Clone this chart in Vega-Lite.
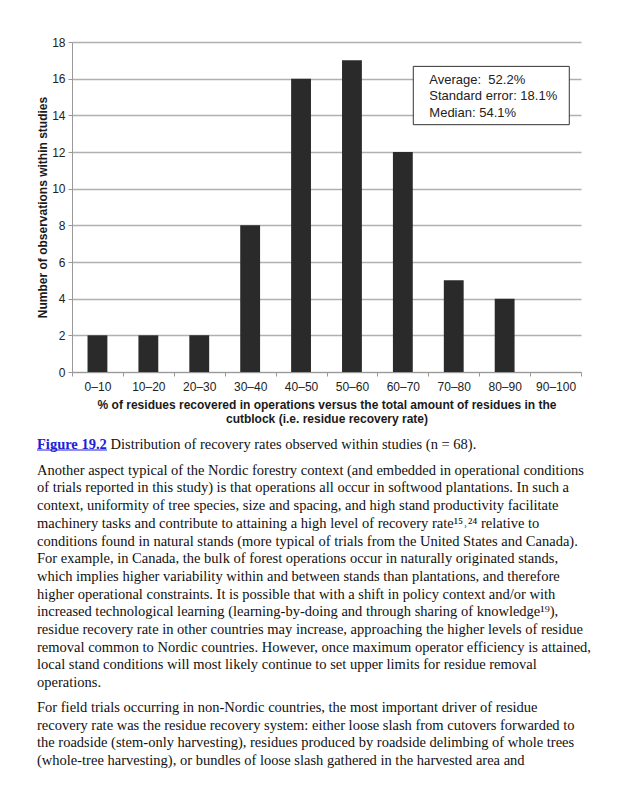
{
  "$schema": "https://vega.github.io/schema/vega-lite/v6.json",
  "background": "white",
  "padding": {"left": 36, "top": 36, "right": 0, "bottom": 0},
  "config": {"view": {"stroke": null}, "font": "Liberation Sans"},
  "columns": 1,
  "spacing": 12,
  "concat": [
    {
      "width": 509,
      "height": 330,
      "data": {"values": [
        {"range": "0–10", "count": 2},
        {"range": "10–20", "count": 2},
        {"range": "20–30", "count": 2},
        {"range": "30–40", "count": 8},
        {"range": "40–50", "count": 16},
        {"range": "50–60", "count": 17},
        {"range": "60–70", "count": 12},
        {"range": "70–80", "count": 5},
        {"range": "80–90", "count": 4},
        {"range": "90–100", "count": 0}
      ]},
      "resolve": {"scale": {"x": "independent"}, "axis": {"x": "independent"}},
      "layer": [
        {
          "mark": {"type": "bar", "color": "#2a2a2a", "width": {"band": 0.39}},
          "encoding": {
            "x": {
              "field": "range", "type": "nominal", "sort": null,
              "scale": {"paddingInner": 0, "paddingOuter": 0},
              "title": ["% of residues recovered in operations versus the total amount of residues in the", "cutblock (i.e. residue recovery rate)"],
              "axis": {
                "labelAngle": 0, "tickBand": "extent", "tickSize": 4, "tickColor": "#999", "domainColor": "#999",
                "labelFontSize": 12, "labelColor": "#222", "labelPadding": 5,
                "titleFontSize": 12, "titleFontWeight": "bold", "titleColor": "#1a1a1a", "titleLineHeight": 14, "titlePadding": 7
              }
            },
            "y": {
              "field": "count", "type": "quantitative",
              "scale": {"domain": [0, 18], "nice": false},
              "title": "Number of observations within studies",
              "axis": {
                "values": [0, 2, 4, 6, 8, 10, 12, 14, 16, 18],
                "titleFontSize": 12, "titleFontWeight": "bold", "titleColor": "#1a1a1a", "titlePadding": 2,
                "labelFontSize": 12, "labelColor": "#222", "labelPadding": 3,
                "tickSize": 4, "tickColor": "#999", "domainColor": "#999",
                "gridColor": "#b0b0b0", "gridWidth": 1.3
              }
            }
          }
        },
        {
          "data": {"values": [{"box": "summary statistics"}]},
          "mark": {"type": "rect", "fill": "white", "stroke": "#333", "strokeWidth": 1},
          "encoding": {
            "x": {"datum": 67.05, "type": "quantitative", "scale": {"domain": [0, 100], "nice": false, "zero": false}, "axis": null},
            "x2": {"datum": 97.7},
            "y": {
              "datum": 16.67, "type": "quantitative",
              "title": "Number of observations within studies",
              "axis": {
                "values": [0, 2, 4, 6, 8, 10, 12, 14, 16, 18],
                "titleFontSize": 12, "titleFontWeight": "bold", "titleColor": "#1a1a1a", "titlePadding": 2,
                "labelFontSize": 12, "labelColor": "#222", "labelPadding": 3,
                "tickSize": 4, "tickColor": "#999", "domainColor": "#999",
                "gridColor": "#b0b0b0", "gridWidth": 1.3
              }
            },
            "y2": {"datum": 13.49}
          }
        },
        {
          "data": {"values": [{"summary": "Average:\u00a0 52.2%\nStandard error: 18.1%\nMedian: 54.1%"}]},
          "mark": {"type": "text", "align": "left", "baseline": "alphabetic", "lineBreak": "\n", "lineHeight": 16.3, "fontSize": 13, "font": "Liberation Sans", "color": "#222"},
          "encoding": {
            "x": {"datum": 70.2, "type": "quantitative", "scale": {"domain": [0, 100], "nice": false, "zero": false}, "axis": null},
            "y": {
              "datum": 15.71, "type": "quantitative",
              "title": "Number of observations within studies",
              "axis": {
                "values": [0, 2, 4, 6, 8, 10, 12, 14, 16, 18],
                "titleFontSize": 12, "titleFontWeight": "bold", "titleColor": "#1a1a1a", "titlePadding": 2,
                "labelFontSize": 12, "labelColor": "#222", "labelPadding": 3,
                "tickSize": 4, "tickColor": "#999", "domainColor": "#999",
                "gridColor": "#b0b0b0", "gridWidth": 1.3
              }
            },
            "text": {"field": "summary", "type": "nominal"}
          }
        }
      ]
    },
    {
      "width": 510,
      "height": 301,
      "data": {"values": [
        {"kind": "label", "line": 0, "text": "Figure 19.2"},
        {"kind": "caption", "line": 0, "text": "Distribution of recovery rates observed within studies (n = 68)."},
        {"kind": "p1", "line": 1, "text": "Another aspect typical of the Nordic forestry context (and embedded in operational conditions"},
        {"kind": "p1", "line": 2, "text": "of trials reported in this study) is that operations all occur in softwood plantations. In such a"},
        {"kind": "p1", "line": 3, "text": "context, uniformity of tree species, size and spacing, and high stand productivity facilitate"},
        {"kind": "p1", "line": 4, "text": "machinery tasks and contribute to attaining a high level of recovery rate¹⁵˒²⁴ relative to"},
        {"kind": "p1", "line": 5, "text": "conditions found in natural stands (more typical of trials from the United States and Canada)."},
        {"kind": "p1", "line": 6, "text": "For example, in Canada, the bulk of forest operations occur in naturally originated stands,"},
        {"kind": "p1", "line": 7, "text": "which implies higher variability within and between stands than plantations, and therefore"},
        {"kind": "p1", "line": 8, "text": "higher operational constraints. It is possible that with a shift in policy context and/or with"},
        {"kind": "p1", "line": 9, "text": "increased technological learning (learning-by-doing and through sharing of knowledge¹⁹),"},
        {"kind": "p1", "line": 10, "text": "residue recovery rate in other countries may increase, approaching the higher levels of residue"},
        {"kind": "p1", "line": 11, "text": "removal common to Nordic countries. However, once maximum operator efficiency is attained,"},
        {"kind": "p1", "line": 12, "text": "local stand conditions will most likely continue to set upper limits for residue removal"},
        {"kind": "p1", "line": 13, "text": "operations."},
        {"kind": "p2", "line": 14, "text": "For field trials occurring in non-Nordic countries, the most important driver of residue"},
        {"kind": "p2", "line": 15, "text": "recovery rate was the residue recovery system: either loose slash from cutovers forwarded to"},
        {"kind": "p2", "line": 16, "text": "the roadside (stem-only harvesting), residues produced by roadside delimbing of whole trees"},
        {"kind": "p2", "line": 17, "text": "(whole-tree harvesting), or bundles of loose slash gathered in the harvested area and"}
      ]},
      "encoding": {
        "x": {"datum": 0, "type": "quantitative", "scale": {"domain": [0, 1], "nice": false, "zero": false}, "axis": null},
        "y": {"field": "line", "type": "quantitative", "scale": {"domain": [0, 17], "reverse": true, "nice": false, "zero": false}, "axis": null}
      },
      "layer": [
        {
          "transform": [{"filter": "datum.kind === 'label'"}],
          "mark": {"type": "text", "align": "left", "baseline": "alphabetic", "font": "Liberation Serif", "fontSize": 14.5, "fontWeight": "bold", "color": "#2020d8", "dy": -8.5, "dx": -35},
          "encoding": {"text": {"field": "text", "type": "nominal"}}
        },
        {
          "transform": [{"filter": "datum.kind === 'label'"}],
          "mark": {"type": "rule", "color": "#2020d8", "strokeWidth": 1, "yOffset": -7, "xOffset": -35, "x2Offset": -35},
          "encoding": {
            "x": {"datum": 0, "type": "quantitative"},
            "x2": {"datum": 0.1373},
            "y": {"datum": 0, "type": "quantitative"}
          }
        },
        {
          "transform": [{"filter": "datum.kind === 'caption'"}],
          "mark": {"type": "text", "align": "left", "baseline": "alphabetic", "font": "Liberation Serif", "fontSize": 14.5, "color": "#111", "dy": -8.5, "dx": 38.5},
          "encoding": {"text": {"field": "text", "type": "nominal"}}
        },
        {
          "transform": [{"filter": "datum.kind === 'p1'"}],
          "mark": {"type": "text", "align": "left", "baseline": "alphabetic", "font": "Liberation Serif", "fontSize": 14.5, "color": "#111", "dx": -35},
          "encoding": {"text": {"field": "text", "type": "nominal"}}
        },
        {
          "transform": [{"filter": "datum.kind === 'p2'"}],
          "mark": {"type": "text", "align": "left", "baseline": "alphabetic", "font": "Liberation Serif", "fontSize": 14.5, "color": "#111", "dy": 7, "dx": -35},
          "encoding": {"text": {"field": "text", "type": "nominal"}}
        }
      ]
    }
  ]
}
